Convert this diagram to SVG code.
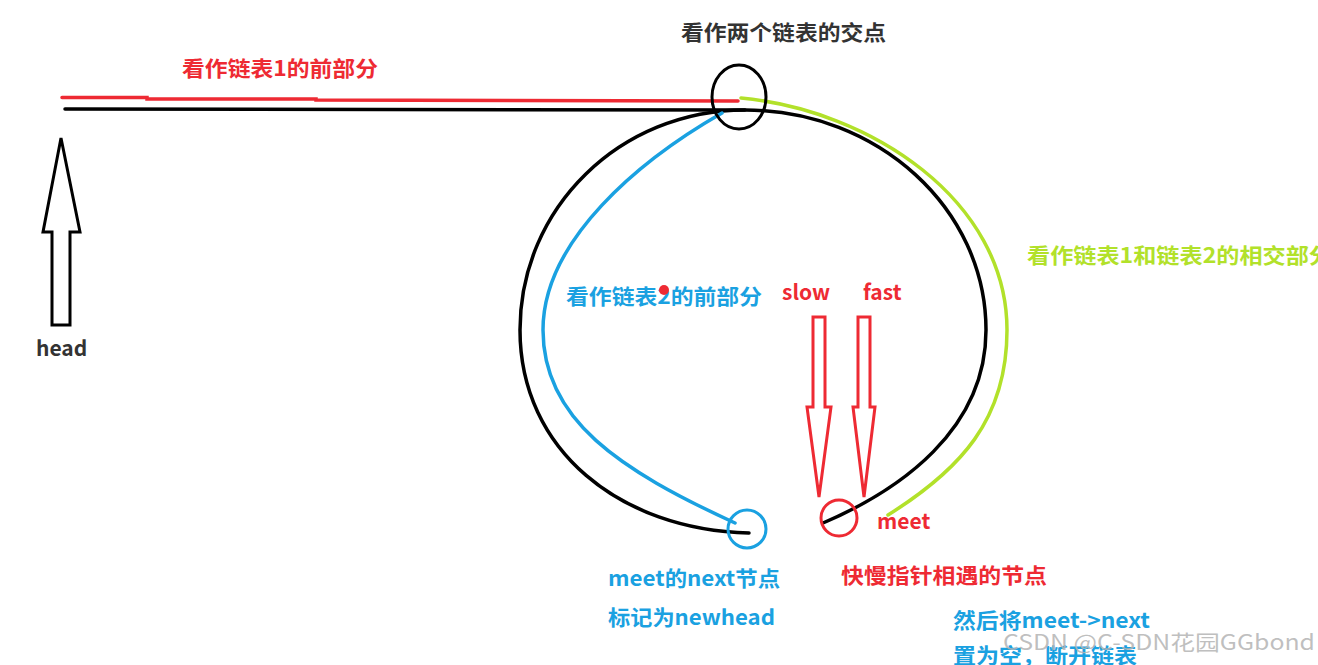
<svg xmlns="http://www.w3.org/2000/svg" width="1318" height="665" viewBox="0 0 1318 665">
<style>
.t{font-family:"Noto Sans CJK SC","Noto Sans",sans-serif;font-weight:bold;font-size:21px}
.red{fill:#ee2a33}.blue{fill:#1aa1e1}.green{fill:#b2e12a}.dark{fill:#333}
.ln{fill:none;stroke-linecap:round}
.k{stroke:#000}.r{stroke:#ee2a33}.b{stroke:#1aa1e1}.g{stroke:#b2e12a}
</style>
<rect width="1318" height="665" fill="#fff"/>
<g id="connectors">
<path class="ln r" stroke-width="3.5" d="M62,97.5 L147,97.5 L147,99 L316,99 L316,100 L738,101"/>
<path class="ln k" stroke-width="3.5" d="M65,109 L745,110"/>
<path class="ln k" stroke-width="3.5" d="M823,523 C900,490 986,430 986,330 C986,209 878,110 745,110 C620,110 520,208 520,330 C520,450 620,530 749,533"/>
<path class="ln b" stroke-width="3.5" d="M722,113 C640,160 543,240 543,330 C543,420 620,470 735,523"/>
<path class="ln g" stroke-width="3.5" d="M741,98 C870,110 1007,200 1007,330 C1007,420 960,470 888,515"/>
</g>
<g id="head-arrow">
<polygon points="61,138 80,232 70,232 70,325 52,325 52,232 43,232" fill="#fff" stroke="#000" stroke-width="3" stroke-linejoin="miter"/>
<text class="t dark" x="36" y="356" font-size="20">head</text>
</g>
<g id="intersection">
<ellipse cx="739" cy="97" rx="27" ry="32" fill="none" stroke="#000" stroke-width="3"/>
<text class="t dark" x="681" y="40" textLength="205" lengthAdjust="spacingAndGlyphs">看作两个链表的交点</text>
</g>
<g id="list1-front">
<text class="t red" x="182" y="76" textLength="196" lengthAdjust="spacingAndGlyphs">看作链表1的前部分</text>
</g>
<g id="list2-front">
<text class="t blue" x="566" y="304" textLength="196" lengthAdjust="spacingAndGlyphs">看作链表2的前部分</text>
<circle cx="664" cy="290" r="5" fill="#ee2a33"/>
</g>
<g id="common-part">
<text class="t green" x="1027" y="263" textLength="305" lengthAdjust="spacingAndGlyphs">看作链表1和链表2的相交部分</text>
</g>
<g id="slow">
<text class="t red" x="782" y="300" font-size="20">slow</text>
<polygon points="813,317 825,317 825,407 831,407 819,497 807,407 813,407" fill="#fff" stroke="#ee2a33" stroke-width="3"/>
</g>
<g id="fast">
<text class="t red" x="863" y="300" font-size="20">fast</text>
<polygon points="858,317 870,317 870,407 875,407 864,497 853,407 858,407" fill="#fff" stroke="#ee2a33" stroke-width="3"/>
</g>
<g id="meet">
<circle cx="839" cy="518" r="18" fill="none" stroke="#ee2a33" stroke-width="3"/>
<text class="t red" x="877" y="529" font-size="20">meet</text>
<text class="t red" x="841" y="583" textLength="206" lengthAdjust="spacingAndGlyphs">快慢指针相遇的节点</text>
</g>
<g id="newhead">
<circle cx="747" cy="529" r="19" fill="none" stroke="#1aa1e1" stroke-width="3"/>
<text class="t blue" x="608" y="586" textLength="172" lengthAdjust="spacingAndGlyphs">meet的next节点</text>
<text class="t blue" x="608" y="625" textLength="167" lengthAdjust="spacingAndGlyphs">标记为newhead</text>
</g>
<g id="note">
<text class="t blue" x="953" y="628" textLength="197" lengthAdjust="spacingAndGlyphs">然后将meet-&gt;next</text>
<text class="t blue" x="953" y="663" textLength="184" lengthAdjust="spacingAndGlyphs">置为空，断开链表</text>
</g>
<g id="watermark">
<text x="1003" y="650" font-family="Noto Sans CJK SC, Noto Sans, sans-serif" font-size="21" fill="#b4b4b4" fill-opacity="0.85" textLength="312" lengthAdjust="spacingAndGlyphs">CSDN @C-SDN花园GGbond</text>
</g>
</svg>
